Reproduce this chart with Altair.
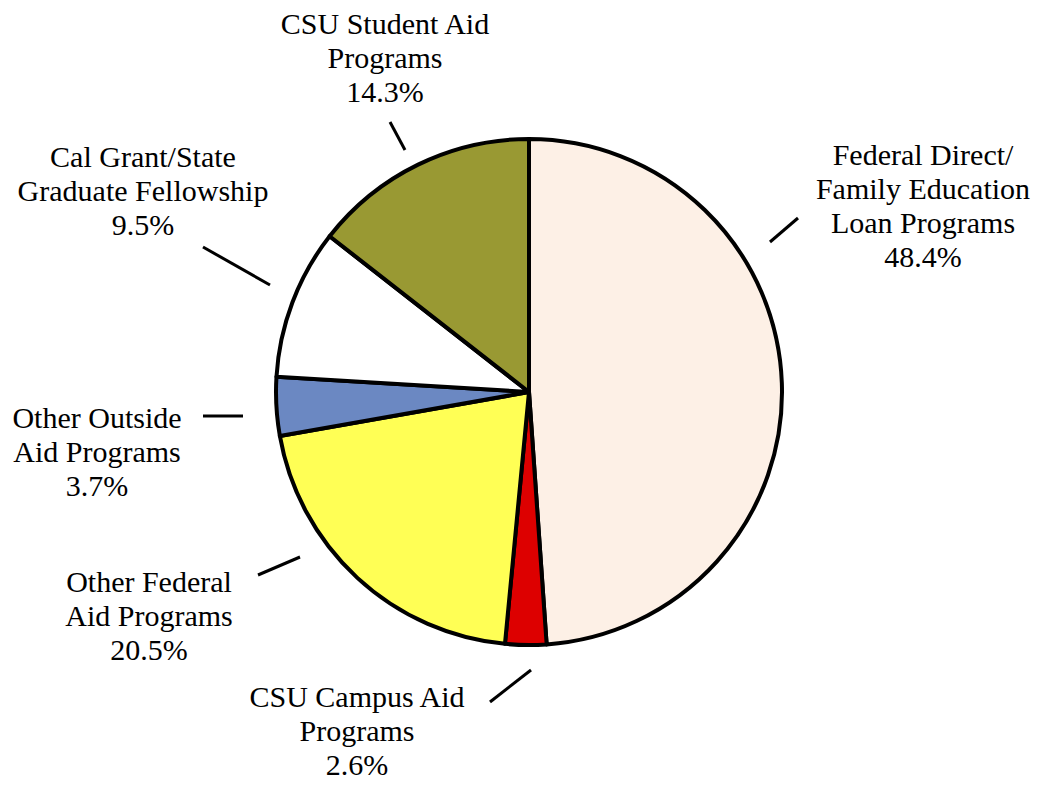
import altair as alt
import pandas as pd

# Slice data (clockwise from 12 o'clock)
categories = [
    "Federal Direct/Family Education Loan Programs",
    "CSU Campus Aid Programs",
    "Other Federal Aid Programs",
    "Other Outside Aid Programs",
    "Cal Grant/State Graduate Fellowship",
    "CSU Student Aid Programs",
]
values = [48.4, 2.6, 20.5, 3.7, 9.5, 14.3]
colors = ["#FDF0E6", "#DD0000", "#FFFF55", "#6B88C2", "#FFFFFF", "#999933"]

label_texts = [
    "Federal Direct/\nFamily Education\nLoan Programs\n48.4%",
    "CSU Campus Aid\nPrograms\n2.6%",
    "Other Federal\nAid Programs\n20.5%",
    "Other Outside\nAid Programs\n3.7%",
    "Cal Grant/State\nGraduate Fellowship\n9.5%",
    "CSU Student Aid\nPrograms\n14.3%",
]

# Annotation layout (view pixel coords; page offset 8px)
label_x = [915, 349, 141, 89, 135, 377]
label_y = [157, 699, 584, 420, 159, 26]
leader_x1 = [762, 482, 250, 195, 195, 382]
leader_y1 = [234, 694, 567, 408, 239, 114]
leader_x2 = [790, 523, 292, 235, 262, 397]
leader_y2 = [210, 662, 549, 408, 277, 142]

CX, CY, R = 521, 384, 253

pie_df = pd.DataFrame({"category": categories, "value": values, "order": list(range(len(values)))})
lab_df = pd.DataFrame({"text": label_texts, "lx": label_x, "ly": label_y})
lead_df = pd.DataFrame({"x1": leader_x1, "y1": leader_y1, "x2": leader_x2, "y2": leader_y2})

pie = alt.Chart(pie_df).mark_arc(outerRadius=R, stroke="black", strokeWidth=4, strokeJoin="round").encode(
    theta=alt.Theta("value:Q", stack=True),
    order=alt.Order("order:Q"),
    color=alt.Color("category:N", scale=alt.Scale(domain=categories, range=colors), legend=None),
    x=alt.value(CX),
    y=alt.value(CY),
)

labels = alt.Chart(lab_df).mark_text(
    font="Liberation Serif", fontSize=30, lineBreak="\n", lineHeight=34.0,
    align="center", baseline="alphabetic", color="black",
).encode(
    x=alt.X("lx:Q", scale=None, axis=None),
    y=alt.Y("ly:Q", scale=None, axis=None),
    text="text:N",
)

leaders = alt.Chart(lead_df).mark_rule(color="black", strokeWidth=3).encode(
    x=alt.X("x1:Q", scale=None, axis=None),
    y=alt.Y("y1:Q", scale=None, axis=None),
    x2="x2:Q",
    y2="y2:Q",
)

chart = alt.layer(pie, leaders, labels).properties(
    width=1025, height=775, padding=0, background="white",
    autosize=alt.AutoSizeParams(type="none")
).configure_view(stroke="transparent", strokeWidth=0)

chart.save("out.html", embed_options={"renderer": "svg", "actions": False})
